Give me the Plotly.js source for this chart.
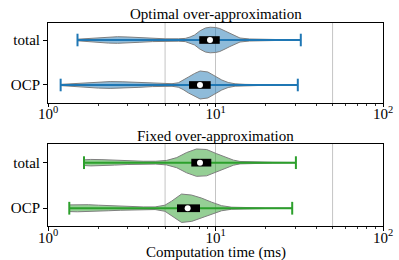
<!DOCTYPE html>
<html><head><meta charset="utf-8">
<script src="https://cdn.plot.ly/plotly-3.0.1.min.js"></script>
<style>html,body{margin:0;padding:0;background:#fff}#chart{width:399px;height:260px}</style>
</head><body><div id="chart"></div>
<script>
const categories = ['OCP', 'total'];
const panelTitles = ['Optimal over-approximation', 'Fixed over-approximation'];
const xTitle = 'Computation time (ms)';
const gridValues = [5, 10, 50];
const tickValues = [1, 10, 100];
const tickLabels = ['10<sup>0</sup>', '10<sup>1</sup>', '10<sup>2</sup>'];
const minorValues = [2,3,4,5,6,7,8,9,20,30,40,50,60,70,80,90];

// stats: [min, q1, median, q3, max] (ms)
const optOCPStats   = [1.19, 6.95, 8.08, 9.36, 31.0];
const optTotalStats = [1.50, 8.00, 9.27, 10.6, 32.3];
const fixOCPStats   = [1.34, 5.89, 6.82, 8.08, 28.7];
const fixTotalStats = [1.64, 7.17, 8.08, 9.44, 30.2];

// violin density profiles (time in ms, relative density)
const optTotalX = [1.5, 1.7, 2.0, 2.3, 2.6, 3.0, 3.5, 4.2, 5.0, 6.0, 6.6, 7.05, 7.5, 8.1, 8.7, 9.3, 10.0, 10.6, 11.4, 12.2, 13.0, 14.0, 16.0, 20.0, 26.0, 32.3];
const optTotalD = [0.8, 1.5, 2.4, 3.1, 3.3, 3.0, 2.3, 1.6, 1.2, 1.2, 1.6, 3.0, 5.0, 9.3, 12.0, 12.8, 12.5, 11.5, 9.0, 6.5, 4.0, 2.0, 1.0, 0.5, 0.3, 0.2];
const optOCPX = [1.19, 1.4, 1.7, 2.0, 2.35, 2.8, 3.45, 4.2, 4.8, 5.5, 6.0, 6.4, 6.9, 7.5, 8.1, 9.0, 9.9, 10.9, 11.9, 13.1, 15.0, 19.0, 25.0, 31.0];
const optOCPD = [0.6, 1.3, 2.3, 3.1, 3.4, 3.2, 2.4, 1.6, 1.2, 1.3, 2.2, 4.5, 8.0, 11.5, 14.0, 13.0, 9.0, 5.0, 2.5, 1.2, 0.6, 0.4, 0.3, 0.2];
const fixTotalX = [1.64, 1.8, 2.1, 2.5, 3.0, 3.7, 4.4, 5.1, 5.87, 6.72, 7.7, 8.85, 10.1, 11.7, 12.8, 14.0, 17.0, 22.0, 30.2];
const fixTotalD = [2.8, 3.2, 3.0, 2.4, 1.8, 1.4, 1.4, 2.2, 5.0, 10.0, 13.5, 13.0, 9.0, 5.0, 2.5, 1.2, 0.6, 0.4, 0.2];
const fixOCPX = [1.34, 1.5, 1.74, 2.0, 2.29, 2.7, 3.16, 3.7, 4.36, 4.99, 5.47, 6.27, 7.2, 8.26, 9.48, 10.87, 12.5, 15.0, 20.0, 28.7];
const fixOCPD = [3.3, 3.5, 3.5, 3.0, 2.5, 2.0, 1.5, 1.3, 1.3, 3.0, 7.0, 14.0, 13.0, 10.0, 6.0, 2.5, 1.0, 0.5, 0.3, 0.2];

const BLUE = '#1f77b4', BLUE_FILL = 'rgba(31,119,180,0.5)';
const GREEN = '#2ca02c', GREEN_FILL = 'rgba(44,160,44,0.5)';
const DENS_SCALE = 1 / 45;
const BOX_HALF = 0.085, CAP_HALF = 0.14;

const traces = [];
function gridLines(xa, ya) {
  gridValues.forEach(g => traces.push({
    type: 'scatter', mode: 'lines', x: [g, g], y: [-1, 3], xaxis: xa, yaxis: ya,
    line: {color: '#c4c4c4', width: 1}, hoverinfo: 'skip', showlegend: false
  }));
}
function violin(xs, ds, stats, c, color, fill, xa, ya) {
  const up = ds.map(d => c + d * DENS_SCALE);
  const dn = ds.map(d => c - d * DENS_SCALE).reverse();
  traces.push({type: 'scatter', mode: 'lines', x: xs.concat(xs.slice().reverse()), y: up.concat(dn),
    fill: 'toself', fillcolor: fill, line: {color: '#7f7f7f', width: 1}, xaxis: xa, yaxis: ya,
    hoverinfo: 'skip', showlegend: false});
  traces.push({type: 'scatter', mode: 'lines', x: [stats[0], stats[4]], y: [c, c], xaxis: xa, yaxis: ya,
    line: {color: color, width: 2}, hoverinfo: 'skip', showlegend: false});
  [stats[0], stats[4]].forEach(v => traces.push({type: 'scatter', mode: 'lines', x: [v, v],
    y: [c - CAP_HALF, c + CAP_HALF], xaxis: xa, yaxis: ya, line: {color: color, width: 2},
    hoverinfo: 'skip', showlegend: false}));
  traces.push({type: 'scatter', mode: 'lines', x: [stats[1], stats[3], stats[3], stats[1], stats[1]],
    y: [c - BOX_HALF, c - BOX_HALF, c + BOX_HALF, c + BOX_HALF, c - BOX_HALF], fill: 'toself',
    fillcolor: '#000', line: {color: '#000', width: 0}, xaxis: xa, yaxis: ya, hoverinfo: 'skip', showlegend: false});
  traces.push({type: 'scatter', mode: 'markers', x: [stats[2]], y: [c], xaxis: xa, yaxis: ya,
    marker: {color: '#fff', size: 6, line: {width: 0}}, hoverinfo: 'skip', showlegend: false});
}
gridLines('x', 'y');
gridLines('x2', 'y2');
violin(optTotalX, optTotalD, optTotalStats, 1, BLUE, BLUE_FILL, 'x', 'y');
violin(optOCPX, optOCPD, optOCPStats, 0, BLUE, BLUE_FILL, 'x', 'y');
violin(fixTotalX, fixTotalD, fixTotalStats, 1, GREEN, GREEN_FILL, 'x2', 'y2');
violin(fixOCPX, fixOCPD, fixOCPStats, 0, GREEN, GREEN_FILL, 'x2', 'y2');

const FONT = 'Liberation Serif';
function xax(anchor) {
  return {
    type: 'log', range: [0, 2], anchor: anchor, showgrid: false, zeroline: false,
    showline: true, mirror: true, linecolor: '#000', linewidth: 1,
    ticks: 'outside', ticklen: 3.5, tickwidth: 1, tickcolor: '#000', ticklabelstandoff: -6,
    tickmode: 'array', tickvals: tickValues, ticktext: tickLabels,
    tickfont: {family: FONT, size: 15, color: '#000'},
    minor: {ticks: 'outside', ticklen: 2, tickwidth: 0.8, tickcolor: '#000', tickmode: 'array', tickvals: minorValues, showgrid: false}
  };
}
function yax(anchor, domain, range) {
  return {
    domain: domain, anchor: anchor, range: range, showgrid: false, zeroline: false,
    showline: true, mirror: true, linecolor: '#000', linewidth: 1,
    ticks: 'outside', ticklen: 4, tickwidth: 1, tickcolor: '#000',
    tickmode: 'array', tickvals: [0, 1], ticktext: categories,
    tickfont: {family: FONT, size: 15, color: '#000'}
  };
}
const titleFont = {family: FONT, size: 15, color: '#000'};
const layout = {
  width: 399, height: 260,
  margin: {l: 48, r: 16, t: 23, b: 34},
  paper_bgcolor: '#fff', plot_bgcolor: '#fff',
  showlegend: false,
  xaxis: xax('y'),
  yaxis: yax('x', [0.606, 1], [-0.4, 1.378]),
  xaxis2: xax('y2'),
  yaxis2: yax('x2', [0, 0.404], [-0.39, 1.41]),
  annotations: [
    {text: panelTitles[0], xref: 'paper', yref: 'paper', x: 0.5, y: 1.044, xanchor: 'center', yanchor: 'middle',
     showarrow: false, font: titleFont},
    {text: panelTitles[1], xref: 'paper', yref: 'paper', x: 0.5, y: 0.443, xanchor: 'center', yanchor: 'middle',
     showarrow: false, font: titleFont},
    {text: xTitle, xref: 'paper', yref: 'paper', x: 0.5, y: -0.133, xanchor: 'center', yanchor: 'middle',
     showarrow: false, font: titleFont}
  ]
};
Plotly.newPlot('chart', traces, layout, {staticPlot: true, displayModeBar: false});
</script></body></html>
